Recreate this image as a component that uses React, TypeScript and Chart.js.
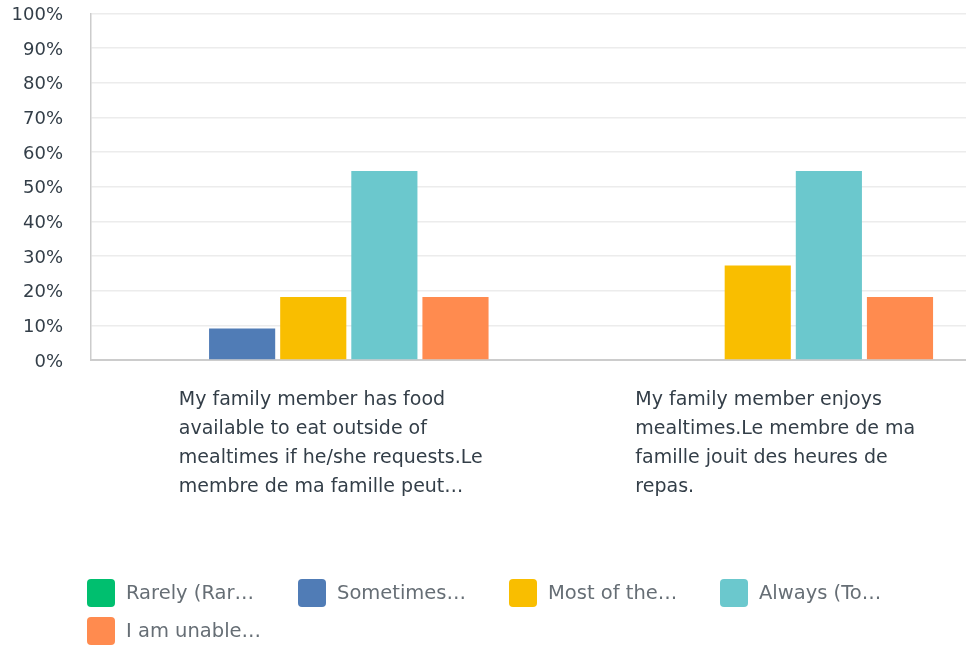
import React, { useEffect, useRef } from 'react';
import { Chart, registerables } from 'chart.js';

Chart.register(...registerables);

const FONT = '"DejaVu Sans", "Open Sans", sans-serif';

// Category labels (wrapped lines as shown)
const categoryLines: string[][] = [
  ['My family member has food', 'available to eat outside of', 'mealtimes if he/she requests.Le', 'membre de ma famille peut…'],
  ['My family member enjoys', 'mealtimes.Le membre de ma', 'famille jouit des heures de', 'repas.'],
];
const categories = categoryLines.map((l) => l.join(' '));

// Series
const seriesNames = ['Rarely (Rar…', 'Sometimes…', 'Most of the…', 'Always (To…', 'I am unable…'];
const seriesColors = ['#00BF6F', '#507CB6', '#F9BE00', '#6BC8CD', '#FF8B4F'];
const rarely = [0, 0];
const sometimes = [9.09, 0];
const mostOfTheTime = [18.18, 27.27];
const always = [54.55, 54.55];
const unable = [18.18, 18.18];
const seriesValues = [rarely, sometimes, mostOfTheTime, always, unable];

// Y ticks
const yMin = 0;
const yMax = 100;
const yStep = 10;

const categoryLabelPlugin = {
  id: 'categoryLabels',
  afterDraw(chart: any) {
    const { ctx, chartArea } = chart;
    const x = chart.scales.x;
    ctx.save();
    ctx.font = `19px ${FONT}`;
    ctx.fillStyle = '#333e48';
    ctx.textAlign = 'left';
    ctx.textBaseline = 'alphabetic';
    categoryLines.forEach((lines, i) => {
      const cx = x.getPixelForValue(i);
      const maxW = Math.max(...lines.map((l) => ctx.measureText(l).width));
      const left = cx - maxW / 2 + 17.5;
      lines.forEach((l, j) => ctx.fillText(l, left, chartArea.bottom + 45 + j * 29));
    });
    ctx.restore();
  },
};

const legendPlugin = {
  id: 'gridLegend',
  afterDraw(chart: any) {
    const { ctx, chartArea } = chart;
    const top = chartArea.bottom + 219;
    const left = 87;
    const colW = 211;
    const rowH = 38;
    const box = 28;
    ctx.save();
    ctx.font = `19.5px ${FONT}`;
    ctx.textAlign = 'left';
    ctx.textBaseline = 'middle';
    chart.data.datasets.forEach((ds: any, i: number) => {
      const col = i % 4;
      const row = Math.floor(i / 4);
      const bx = left + col * colW;
      const by = top + row * rowH;
      ctx.fillStyle = ds.backgroundColor;
      ctx.beginPath();
      (ctx as any).roundRect(bx, by, box, box, 4);
      ctx.fill();
      ctx.fillStyle = '#666e75';
      ctx.fillText(ds.label, bx + box + 11, by + box / 2 + 1);
    });
    ctx.restore();
  },
};

export default function App() {
  const canvasRef = useRef<HTMLCanvasElement | null>(null);

  useEffect(() => {
    if (!canvasRef.current) return;
    const chart = new Chart(canvasRef.current, {
      type: 'bar',
      data: {
        labels: categories,
        datasets: seriesNames.map((name, i) => ({
          label: name,
          data: seriesValues[i],
          backgroundColor: seriesColors[i],
          borderWidth: 0,
          barPercentage: 0.93,
          categoryPercentage: 0.8,
        })),
      },
      options: {
        responsive: false,
        animation: false,
        devicePixelRatio: 1,
        layout: { padding: { top: 13.5, right: 0, bottom: 0, left: 0 } },
        plugins: {
          legend: { display: false },
          tooltip: { enabled: false },
        },
        scales: {
          x: {
            grid: { display: false, drawTicks: false },
            border: { display: true, color: '#cccccc', width: 2 },
            ticks: { display: false },
            afterFit(scale: any) {
              scale.height = 286;
            },
          },
          y: {
            min: yMin,
            max: yMax,
            ticks: {
              stepSize: yStep,
              padding: 28,
              labelOffset: 2,
              color: '#333e48',
              font: { family: FONT, size: 18 },
              callback: (v: any) => `${v}%`,
            },
            grid: { color: '#ececec', lineWidth: 1.5, drawTicks: false },
            border: { display: true, color: '#cccccc', width: 1.5 },
            afterFit(scale: any) {
              scale.width = 91;
              scale.paddingTop = 0;
              scale.paddingBottom = 0;
            },
          },
        },
      },
      plugins: [categoryLabelPlugin, legendPlugin],
    });
    return () => chart.destroy();
  }, []);

  return (
    <div style={{ position: 'fixed', left: 0, top: 0, width: 966, height: 646, overflow: 'hidden', background: '#fff' }}>
      <canvas ref={canvasRef} width={980} height={646} style={{ width: 980, height: 646, display: 'block' }} />
    </div>
  );
}
